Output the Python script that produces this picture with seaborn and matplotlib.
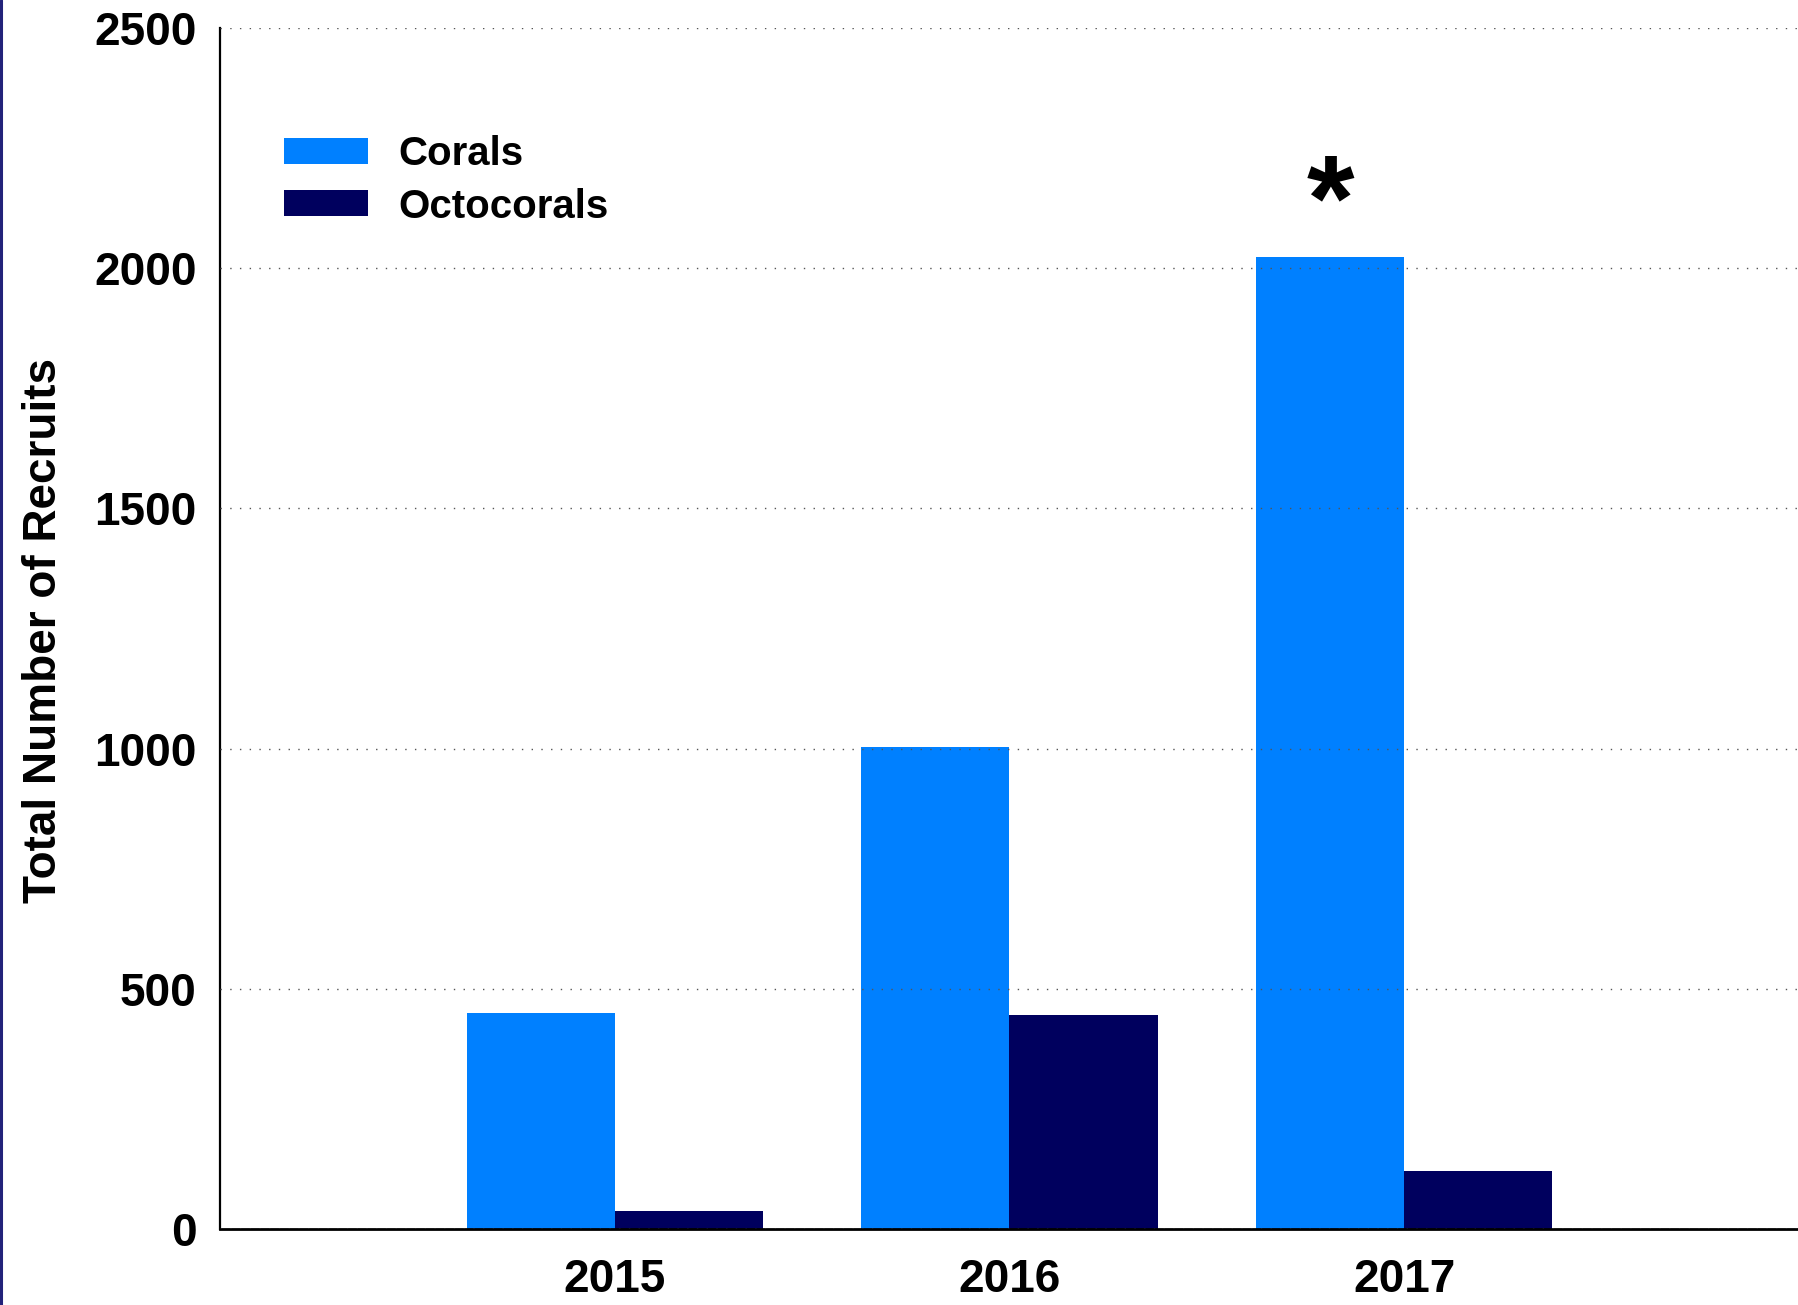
import matplotlib
matplotlib.use("Agg")
import matplotlib.pyplot as plt
import seaborn as sns
import pandas as pd
from matplotlib.lines import Line2D

years = ["2015", "2016", "2017"]
corals = [450, 1003, 2023]
octocorals = [37, 445, 121]
groups = ["Corals", "Octocorals"]
yticks = [0, 500, 1000, 1500, 2000, 2500]

df = pd.DataFrame({
    "Year": years * 2,
    "Recruits": corals + octocorals,
    "Group": [groups[0]] * 3 + [groups[1]] * 3,
})

sns.set_style("white")
plt.rcParams["font.family"] = ["Liberation Sans", "DejaVu Sans"]
plt.rcParams["font.weight"] = "bold"
plt.rcParams["text.color"] = "black"
plt.rcParams["xtick.color"] = "black"
plt.rcParams["ytick.color"] = "black"
plt.rcParams["axes.labelcolor"] = "black"

W, H = 1799, 1305
fig = plt.figure(figsize=(W / 100, H / 100), dpi=100)
ax = fig.add_axes([220 / W, 1 - 1229 / H, 1 - 220 / W, (1229 - 28) / H])

palette = {"Corals": "#0080FF", "Octocorals": "#00005E"}
sns.barplot(data=df, x="Year", y="Recruits", hue="Group", order=years,
            hue_order=groups, palette=palette, width=0.75, errorbar=None,
            saturation=1, ax=ax, linewidth=0, zorder=2)

ax.set_xlim(-1, 3)
ax.set_ylim(0, 2500)
ax.set_yticks(yticks)
ax.set_yticklabels([str(t) for t in yticks])
ax.set_xlabel("")
ax.set_ylabel("")

ax.grid(axis="y", linestyle=(0, (1, 6)), linewidth=1.0, color="#555555", zorder=3)
ax.grid(axis="x", visible=False)
ax.set_axisbelow(False)

for s in ["top", "right"]:
    ax.spines[s].set_visible(False)
ax.spines["left"].set_linewidth(1.6)
ax.spines["bottom"].set_linewidth(2.0)
ax.spines["left"].set_color("black")
ax.spines["bottom"].set_color("black")

ax.tick_params(axis="y", length=0, pad=17, labelsize=33, labelcolor="black")
ax.tick_params(axis="x", length=0, pad=21, labelsize=33, labelcolor="black")
for lbl in ax.get_xticklabels() + ax.get_yticklabels():
    lbl.set_fontweight("bold")

fig.text(44 / W, 1 - 630 / H, "Total Number of Recruits", rotation=90,
         ha="center", va="center", fontsize=33, fontweight="bold", color="black")

handles, labels = ax.get_legend_handles_labels()
leg = ax.legend(handles, labels, loc="upper left",
                bbox_to_anchor=(284 / W, 1 - 135 / H),
                bbox_transform=fig.transFigure, frameon=False,
                borderpad=0, borderaxespad=0, handlelength=2.08,
                handleheight=0.62, handletextpad=0.75, labelspacing=0.36,
                prop={"size": 29, "weight": "bold"})
for t in leg.get_texts():
    t.set_color("black")

ax.text(2 - 0.1875, corals[2] + 37, "*", ha="center", va="baseline",
        fontsize=88, fontweight="bold", color="black")

fig.add_artist(Line2D([1.5 / W, 1.5 / W], [0, 1], transform=fig.transFigure,
                      color="#22227a", linewidth=2.2))

fig.savefig("out.png", dpi=100)
